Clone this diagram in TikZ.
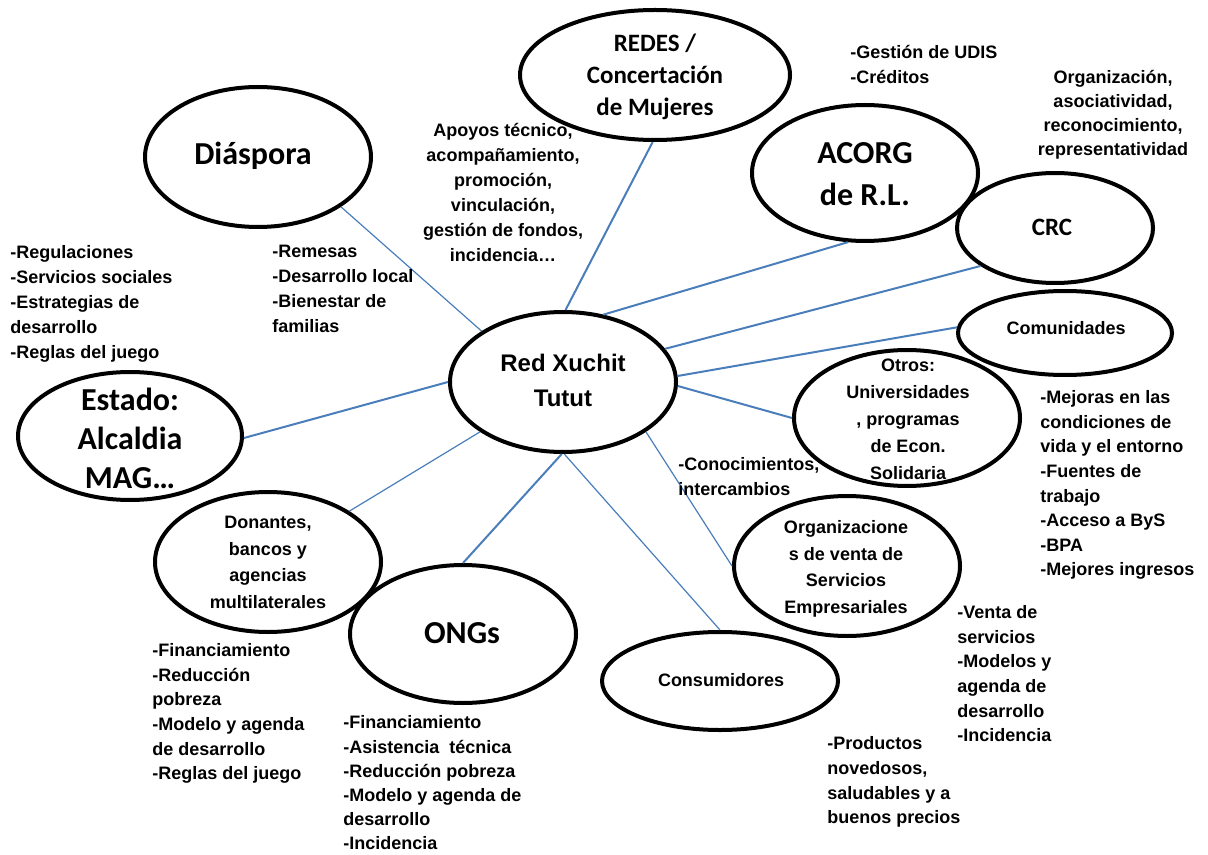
\documentclass[tikz,border=0pt]{standalone}
\usepackage{fontspec}
\setmainfont{Liberation Sans}
\newfontfamily\calib{Carlito}
\usetikzlibrary{shapes.geometric}
\definecolor{linkblue}{RGB}{74,126,187}
\begin{document}
\begin{tikzpicture}[x=0.5pt,y=-0.5pt,
  ell/.style={ellipse,draw=black,line width=2pt,fill=white,inner sep=0pt},
  conn/.style={draw=linkblue,line width=1pt},
  thinconn/.style={draw=linkblue,line width=0.6pt},
  lbl/.style={inner sep=0pt,align=center},
  side/.style={inner sep=0pt,align=left,anchor=north west},
  sidec/.style={inner sep=0pt,align=center,anchor=north},
  sf/.style={font=\bfseries\fontsize{9}{#1}\selectfont},
  cf/.style={font=\calib\bfseries\fontsize{16}{#1}\selectfont}
]
\useasboundingbox (0,0) rectangle (1208,855);

% ellipses
\node[ell,minimum width=135pt,minimum height=65pt] (redes) at (655,75) {};
\node[ell,minimum width=113pt,minimum height=70pt] (diasp) at (258,157) {};
\node[ell,minimum width=113pt,minimum height=68pt] (acorg) at (865,173) {};
\node[ell,minimum width=98pt,minimum height=55pt] (crc) at (1055,228) {};
\node[ell,minimum width=107pt,minimum height=42pt] (comu) at (1065,333) {};
\node[ell,minimum width=113pt,minimum height=70pt] (red) at (563,382) {};
\node[ell,minimum width=112pt,minimum height=64pt] (estado) at (130,436) {};
\node[ell,minimum width=113pt,minimum height=68pt] (otros) at (907,418) {};
\node[ell,minimum width=113pt,minimum height=70pt] (org) at (847,566) {};
\node[ell,minimum width=118pt,minimum height=49pt] (cons) at (720,681) {};
\node[ell,minimum width=113pt,minimum height=70pt] (donan) at (268,562) {};
\node[ell,minimum width=113pt,minimum height=69pt] (ongs) at (463,634) {};

% connectors
\draw[thinconn] (red.148) -- (diasp.-31);
\draw[conn] (red.88) -- (redes.-92);
\draw[conn] (red.59) -- (acorg.256);
\draw[conn] (red.18) -- (crc.207);
\draw[conn] (red.3) -- (comu.177);
\draw[conn] (red.-2) -- (otros.180);
\draw[thinconn] (red.-31) -- (org.180);
\draw[thinconn] (red.-89) -- (cons.90);
\draw[conn] (red.-91) -- (ongs.90);
\draw[thinconn] (red.211) -- (donan.32);
\draw[conn] (red.180) -- (estado.-1);

% ellipse labels
\node[lbl,anchor=north,font=\calib\bfseries\fontsize{12.5}{16}\selectfont] (redes-t) at (655,28.6) {\strut REDES /\\Concertación\\de Mujeres};
\node[lbl,anchor=base,cf=19] (diasp-t) at (253,165) {Diáspora};
\node[lbl,anchor=north,cf=21] (acorg-t) at (865,134) {\strut ACORG\\de R.L.};
\node[lbl,anchor=north,cf=19.5] (estado-t) at (130,383) {\strut Estado:\\Alcaldia\\MAG…};
\node[lbl,anchor=base,cf=19] (ongs-t) at (462,643) {ONGs};
\node[lbl,anchor=base,font=\calib\bfseries\fontsize{12.5}{15}\selectfont] (crc-t) at (1052,236) {CRC};
\node[lbl,anchor=north,font=\bfseries\fontsize{12}{17.5}\selectfont] (red-t) at (563,347) {\strut Red Xuchit\\Tutut};
\node[lbl,anchor=base,sf=12] (comu-t) at (1066,334.5) {Comunidades};
\node[lbl,anchor=north,sf=13.5] (otros-t) at (908,352.6) {\strut Otros:\\Universidades\\, programas\\de Econ.\\Solidaria};
\node[lbl,anchor=north,sf=13.25] (org-t) at (846,515) {\strut Organizacione\\s de venta de\\Servicios\\Empresariales};
\node[lbl,anchor=base,sf=12] (cons-t) at (721,686.5) {Consumidores};
\node[lbl,anchor=north,sf=13.25] (donan-t) at (268,510) {\strut Donantes,\\bancos y\\agencias\\multilaterales};

% side texts
\node[side,sf=12.5] (s-estado) at (10,241) {\strut -Regulaciones\\-Servicios sociales\\-Estrategias de\\desarrollo\\-Reglas del juego};
\node[side,sf=12.5] (s-diasp) at (272,240) {\strut -Remesas\\-Desarrollo local\\-Bienestar de\\familias};
\node[sidec,sf=12.5] (s-redes) at (503,119) {\strut Apoyos técnico,\\acompañamiento,\\promoción,\\vinculación,\\gestión de fondos,\\incidencia…};
\node[side,sf=12.5] (s-acorg) at (850,41) {\strut -Gestión de UDIS\\-Créditos};
\node[sidec,sf=12] (s-crc) at (1113,66.7) {\strut Organización,\\asociatividad,\\reconocimiento,\\representatividad};
\node[side,sf=12.3] (s-comu) at (1040,386) {\strut -Mejoras en las\\condiciones de\\vida y el entorno\\-Fuentes de\\trabajo\\-Acceso a ByS\\-BPA\\-Mejores ingresos};
\node[side,sf=12.5] (s-otros) at (678,453) {\strut -Conocimientos,\\intercambios};
\node[side,sf=12.3] (s-org) at (957,601) {\strut -Venta de\\servicios\\-Modelos y\\agenda de\\desarrollo\\-Incidencia};
\node[side,sf=12.35] (s-cons) at (827,732) {\strut -Productos\\novedosos,\\saludables y a\\buenos precios};
\node[side,sf=12.3] (s-donan) at (152,639) {\strut -Financiamiento\\-Reducción\\pobreza\\-Modelo y agenda\\de desarrollo\\-Reglas del juego};
\node[side,sf=12.1] (s-ongs) at (343,711.5) {\strut -Financiamiento\\-Asistencia\ \ técnica\\-Reducción pobreza\\-Modelo y agenda de\\desarrollo\\-Incidencia};
\end{tikzpicture}
\end{document}
